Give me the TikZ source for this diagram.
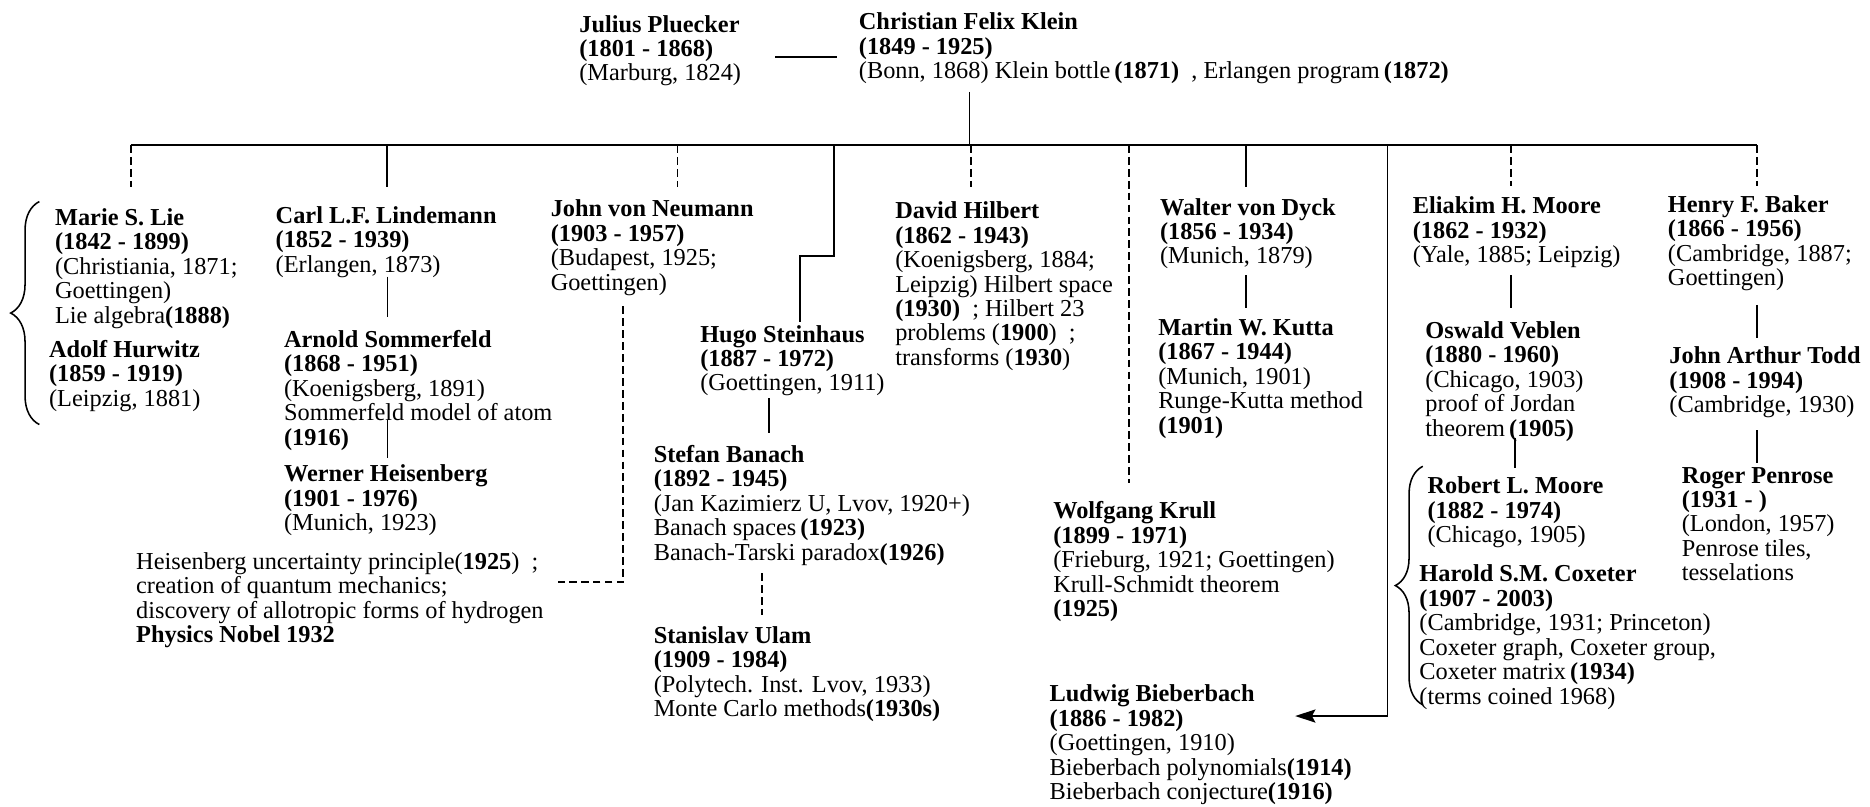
\documentclass[tikz,border=0pt]{standalone}
\usepackage{fontspec}
\setmainfont{Liberation Serif}
\usetikzlibrary{decorations.pathreplacing,arrows.meta}
\begin{document}
\begin{tikzpicture}[x=1pt,y=-1pt,
  person/.style={anchor=north west, align=left, inner sep=0pt,
    font=\fontsize{20.4}{20.5}\selectfont,
    execute at begin node={\rule{0pt}{15pt}}},
  link/.style={line width=1.5pt},
  dlink/.style={line width=1.5pt, dash pattern=on 6.5pt off 3.5pt},
  busline/.style={line width=1.9pt},
  brc/.style={line width=1.3pt, decorate, decoration={brace, amplitude=#1}},
]
\fill[white] (0,0) rectangle (1568,675.9);
\useasboundingbox (0,0) rectangle (1568,675.9);

% ---------- people ----------
\node[person] (pluecker) at (485.6,12.5) {\textbf{Julius Pluecker}\\\textbf{(1801 - 1868)}\\(Marburg, 1824)};
\node[person] (klein) at (720,10.5) {\textbf{Christian Felix Klein}\\\textbf{(1849 - 1925)}\\(Bonn, 1868) Klein bottle\,\textbf{(1871)}\ \ , Erlangen program\,\textbf{(1872)}};

\node[person] (lie) at (46,174.6) {\textbf{Marie S. Lie}\\\textbf{(1842 - 1899)}\\(Christiania, 1871;\\Goettingen)\\Lie algebra\textbf{(1888)}};
\node[person] (hurwitz) at (41,285) {\textbf{Adolf Hurwitz}\\\textbf{(1859 - 1919)}\\(Leipzig, 1881)};

\node[person] (lindemann) at (231,173) {\textbf{Carl L.F. Lindemann}\\\textbf{(1852 - 1939)}\\(Erlangen, 1873)};
\node[person] (sommerfeld) at (238,276.6) {\textbf{Arnold Sommerfeld}\\\textbf{(1868 - 1951)}\\(Koenigsberg, 1891)\\Sommerfeld model of atom\\\textbf{(1916)}};
\node[person] (heisenberg) at (238,389.8) {\textbf{Werner Heisenberg}\\\textbf{(1901 - 1976)}\\(Munich, 1923)};
\node[person] (heisnote) at (114,463) {Heisenberg uncertainty principle(\textbf{1925})\ \ ;\\creation of quantum mechanics;\\discovery of allotropic forms of hydrogen\\\textbf{Physics Nobel 1932}};

\node[person] (neumann) at (461.6,167.5) {\textbf{John von Neumann}\\\textbf{(1903 - 1957)}\\(Budapest, 1925;\\Goettingen)};
\node[person] (steinhaus) at (587,272.5) {\textbf{Hugo Steinhaus}\\\textbf{(1887 - 1972)}\\(Goettingen, 1911)};
\node[person] (banach) at (548,373) {\textbf{Stefan Banach}\\\textbf{(1892 - 1945)}\\(Jan Kazimierz U, Lvov, 1920+)\\Banach spaces\,\textbf{(1923)}\\Banach-Tarski paradox\textbf{(1926)}};
\node[person] (ulam) at (548,525) {\textbf{Stanislav Ulam}\\\textbf{(1909 - 1984)}\\(Polytech. Inst. Lvov, 1933)\\Monte Carlo methods\textbf{(1930s)}};

\node[person] (hilbert) at (750.5,169) {\textbf{David Hilbert}\\\textbf{(1862 - 1943)}\\(Koenigsberg, 1884;\\Leipzig) Hilbert space\\\textbf{(1930)}\ \ ; Hilbert 23\\problems (\textbf{1900})\ \ ;\\transforms (\textbf{1930})};

\node[person] (dyck) at (972.5,166) {\textbf{Walter von Dyck}\\\textbf{(1856 - 1934)}\\(Munich, 1879)};
\node[person] (kutta) at (971,267) {\textbf{Martin W. Kutta}\\\textbf{(1867 - 1944)}\\(Munich, 1901)\\Runge-Kutta method\\\textbf{(1901)}};
\node[person] (krull) at (883,420.5) {\textbf{Wolfgang Krull}\\\textbf{(1899 - 1971)}\\(Frieburg, 1921; Goettingen)\\Krull-Schmidt theorem\\\textbf{(1925)}};
\node[person] (bieberbach) at (880,574) {\textbf{Ludwig Bieberbach}\\\textbf{(1886 - 1982)}\\(Goettingen, 1910)\\Bieberbach polynomials\textbf{(1914)}\\Bieberbach conjecture\textbf{(1916)}};

\node[person] (emoore) at (1184.5,165) {\textbf{Eliakim H. Moore}\\\textbf{(1862 - 1932)}\\(Yale, 1885; Leipzig)};
\node[person] (veblen) at (1195,269.5) {\textbf{Oswald Veblen}\\\textbf{(1880 - 1960)}\\(Chicago, 1903)\\proof of Jordan\\theorem\,\textbf{(1905)}};
\node[person] (rlmoore) at (1196.8,399.5) {\textbf{Robert L. Moore}\\\textbf{(1882 - 1974)}\\(Chicago, 1905)};
\node[person] (coxeter) at (1190,473.5) {\textbf{Harold S.M. Coxeter}\\\textbf{(1907 - 2003)}\\(Cambridge, 1931; Princeton)\\Coxeter graph, Coxeter group,\\Coxeter matrix\,\textbf{(1934)}\\(terms coined 1968)};

\node[person] (baker) at (1398.4,163.5) {\textbf{Henry F. Baker}\\\textbf{(1866 - 1956)}\\(Cambridge, 1887;\\Goettingen)};
\node[person] (todd) at (1399.6,290.5) {\textbf{John Arthur Todd}\\\textbf{(1908 - 1994)}\\(Cambridge, 1930)};
\node[person] (penrose) at (1410,391.5) {\textbf{Roger Penrose}\\\textbf{(1931 - )}\\(London, 1957)\\Penrose tiles,\\tesselations};

% ---------- connector points ----------
\coordinate (pk1) at (650,48);   \coordinate (pk2) at (702,48);
\coordinate (kdown) at (813,77); \coordinate (kbus) at (813,121.6);
\coordinate (busL) at (109.6,121.6); \coordinate (busR) at (1473,121.6);

\coordinate (b1) at (109.6,121.6); \coordinate (e1) at (109.6,157);
\coordinate (b2) at (324.6,121.6); \coordinate (e2) at (324.6,156.5);
\coordinate (b3) at (568,121.6);   \coordinate (e3) at (568,156.5);
\coordinate (b4) at (699,121.6);   \coordinate (s1) at (699,214.6); \coordinate (s2) at (671,214.6); \coordinate (e4) at (671,270);
\coordinate (b5) at (814,121.6);   \coordinate (e5) at (814,156.5);
\coordinate (b6) at (946.6,121.6); \coordinate (e6) at (946.6,405);
\coordinate (b7) at (1044.5,121.6); \coordinate (e7) at (1044.5,156.5);
\coordinate (b8) at (1163.4,121.6); \coordinate (c8) at (1163.4,600.4); \coordinate (e8) at (1086,600.4);
\coordinate (b9) at (1267,121.6);  \coordinate (e9) at (1267,156);
\coordinate (b10) at (1473,121.6); \coordinate (e10) at (1473,156);

\coordinate (ls1) at (325,232);    \coordinate (ls2) at (325,265.5);
\coordinate (sh1) at (325,352);    \coordinate (sh2) at (325,384.3);
\coordinate (nh1) at (522.5,257);  \coordinate (nh2) at (522.5,488); \coordinate (nh3) at (468,488);
\coordinate (sb1) at (645,334);    \coordinate (sb2) at (645,363);
\coordinate (bu1) at (638.7,480.6); \coordinate (bu2) at (638.7,515.7);
\coordinate (dk1) at (1044.5,230.6); \coordinate (dk2) at (1044.5,258.5);
\coordinate (mv1) at (1266.7,230.6); \coordinate (mv2) at (1266.7,258.5);
\coordinate (vr1) at (1270,367);   \coordinate (vr2) at (1270,392.7);
\coordinate (bt1) at (1473,255.7); \coordinate (bt2) at (1473,283.7);
\coordinate (tp1) at (1473,360.6); \coordinate (tp2) at (1473,388.5);

% ---------- connectors ----------
\draw[link] (pk1) -- (pk2);
\draw[link] (kdown) -- (kbus);
\draw[busline] (busL) -- (busR);

\draw[dlink] (b1) -- (e1);
\draw[link]  (b2) -- (e2);
\draw[dlink] (b3) -- (e3);
\draw[link]  (b4) -- (s1) -- (s2) -- (e4);
\draw[dlink] (b5) -- (e5);
\draw[dlink] (b6) -- (e6);
\draw[link]  (b7) -- (e7);
\draw[link, -{Stealth[length=17pt,width=11pt,inset=3pt]}] (b8) -- (c8) -- (e8);
\draw[dlink] (b9) -- (e9);
\draw[dlink] (b10) -- (e10);

\draw[link]  (ls1) -- (ls2);
\draw[link]  (sh1) -- (sh2);
\draw[dlink] (nh1) -- (nh2) -- (nh3);
\draw[link]  (sb1) -- (sb2);
\draw[dlink] (bu1) -- (bu2);
\draw[link]  (dk1) -- (dk2);
\draw[link]  (mv1) -- (mv2);
\draw[link]  (vr1) -- (vr2);
\draw[link]  (bt1) -- (bt2);
\draw[link]  (tp1) -- (tp2);

% ---------- braces ----------
\coordinate (lb1) at (33,356); \coordinate (lb2) at (33,169);
\coordinate (cb1) at (1193,591); \coordinate (cb2) at (1193,391);
\draw[brc=24pt] (lb1) -- (lb2);
\draw[brc=23pt] (cb1) -- (cb2);
\end{tikzpicture}
\end{document}
